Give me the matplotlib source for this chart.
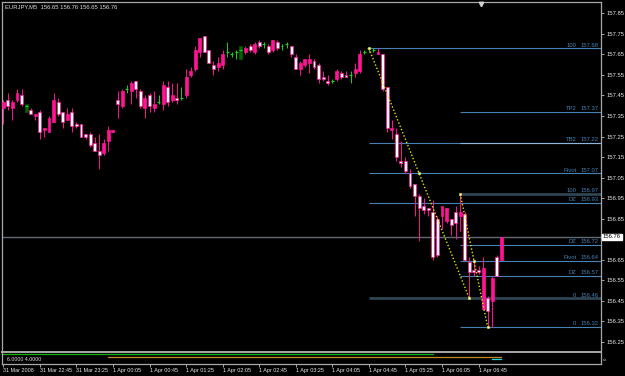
import numpy as np
import matplotlib
matplotlib.use("Agg")
import matplotlib.pyplot as plt
from matplotlib.patches import Rectangle

plt.rcParams['font.family'] = ['Liberation Sans', 'DejaVu Sans']
FS = 4.2

# EURJPY M5 bars, 31 Mar 22:05 .. 1 Apr 07:10
opens = [157.39, 157.43, 157.39, 157.43, 157.45, 157.40, 157.38, 157.35, 157.37, 157.28,
         157.27, 157.32, 157.42, 157.37, 157.33, 157.37, 157.31, 157.31, 157.26, 157.26,
         157.22, 157.18, 157.17, 157.23, 157.27, 157.43, 157.40, 157.48, 157.47, 157.52,
         157.47, 157.39, 157.45, 157.39, 157.42, 157.41, 157.49, 157.43, 157.44, 157.44,
         157.45, 157.55, 157.58, 157.66, 157.74, 157.67, 157.60, 157.59, 157.60, 157.66,
         157.65, 157.66, 157.67, 157.66, 157.69, 157.66, 157.71, 157.70, 157.69, 157.67,
         157.71, 157.69, 157.70, 157.69, 157.64, 157.58, 157.60, 157.61, 157.62, 157.60,
         157.54, 157.52, 157.52, 157.53, 157.56, 157.55, 157.55, 157.56, 157.57, 157.66,
         157.68, 157.67, 157.65, 157.65, 157.49, 157.28, 157.26, 157.13, 157.13, 157.07,
         157.02, 156.96, 156.91, 156.90, 156.88, 156.67, 156.86, 156.90, 156.85, 156.83,
         156.88, 156.87, 156.64, 156.60, 156.59, 156.61, 156.40, 156.45, 156.57, 156.65]
highs = [157.43, 157.46, 157.43, 157.48, 157.48, 157.41, 157.39, 157.36, 157.38, 157.29,
         157.35, 157.46, 157.44, 157.37, 157.39, 157.39, 157.32, 157.31, 157.26, 157.27,
         157.25, 157.26, 157.24, 157.30, 157.28, 157.47, 157.48, 157.50, 157.52, 157.52,
         157.48, 157.45, 157.46, 157.47, 157.45, 157.52, 157.52, 157.51, 157.51, 157.49,
         157.58, 157.59, 157.69, 157.73, 157.74, 157.67, 157.62, 157.64, 157.67, 157.71,
         157.66, 157.67, 157.69, 157.69, 157.70, 157.71, 157.72, 157.71, 157.70, 157.72,
         157.72, 157.70, 157.71, 157.69, 157.65, 157.62, 157.63, 157.65, 157.63, 157.61,
         157.57, 157.55, 157.53, 157.58, 157.57, 157.57, 157.57, 157.61, 157.67, 157.67,
         157.68, 157.68, 157.68, 157.65, 157.49, 157.33, 157.29, 157.23, 157.15, 157.09,
         157.02, 156.97, 156.95, 156.90, 156.94, 156.86, 156.91, 156.90, 156.85, 156.91,
         156.97, 156.88, 156.66, 156.65, 156.62, 156.66, 156.47, 156.57, 156.67, 156.76]
lows = [157.31, 157.38, 157.33, 157.42, 157.40, 157.37, 157.36, 157.33, 157.24, 157.25,
        157.27, 157.32, 157.35, 157.29, 157.33, 157.27, 157.29, 157.25, 157.24, 157.20,
        157.18, 157.09, 157.16, 157.18, 157.27, 157.34, 157.39, 157.46, 157.41, 157.44,
        157.39, 157.34, 157.37, 157.37, 157.41, 157.38, 157.40, 157.42, 157.41, 157.43,
        157.44, 157.54, 157.57, 157.64, 157.66, 157.61, 157.55, 157.57, 157.58, 157.64,
        157.64, 157.63, 157.63, 157.65, 157.66, 157.65, 157.68, 157.68, 157.65, 157.66,
        157.67, 157.67, 157.68, 157.64, 157.58, 157.55, 157.59, 157.56, 157.58, 157.51,
        157.52, 157.50, 157.51, 157.52, 157.53, 157.54, 157.51, 157.54, 157.56, 157.65,
        157.66, 157.66, 157.65, 157.47, 157.27, 157.24, 157.13, 157.10, 157.07, 157.00,
        156.86, 156.74, 156.87, 156.86, 156.65, 156.66, 156.80, 156.83, 156.77, 156.75,
        156.79, 156.65, 156.46, 156.57, 156.58, 156.41, 156.32, 156.32, 156.57, 156.65]
closes = [157.42, 157.40, 157.42, 157.46, 157.41, 157.40, 157.36, 157.36, 157.27, 157.29,
          157.34, 157.43, 157.36, 157.32, 157.36, 157.30, 157.30, 157.25, 157.25, 157.21,
          157.18, 157.16, 157.22, 157.28, 157.28, 157.41, 157.47, 157.48, 157.51, 157.48,
          157.40, 157.44, 157.40, 157.41, 157.42, 157.50, 157.42, 157.45, 157.43, 157.44,
          157.54, 157.57, 157.67, 157.73, 157.66, 157.61, 157.58, 157.61, 157.65, 157.66,
          157.65, 157.66, 157.67, 157.68, 157.67, 157.70, 157.69, 157.70, 157.66, 157.72,
          157.68, 157.69, 157.70, 157.65, 157.58, 157.61, 157.63, 157.63, 157.59, 157.53,
          157.53, 157.51, 157.52, 157.57, 157.54, 157.54, 157.55, 157.58, 157.65, 157.66,
          157.68, 157.67, 157.66, 157.48, 157.29, 157.29, 157.15, 157.12, 157.08, 157.01,
          156.96, 156.90, 156.89, 156.89, 156.66, 156.85, 156.91, 156.84, 156.82, 156.88,
          156.86, 156.65, 156.59, 156.59, 156.60, 156.41, 156.46, 156.56, 156.66, 156.76]
# u = up candle, d = down candle, x = doji cross, G = dark green bar
kinds = list("uduudGdudu" "uudduddddd" "dduuuduxud" "duduxudu" "dx"
             "uuuudddu" "ux" "xxGudud" "xdu" "dxxdduuudd" "ddxuddxuux"
             "xxuddudddd" "dddddduudd" "u" "ddddududuuu")

time_ticks = [0, 8, 16, 24, 32, 40, 48, 56, 64, 72, 80, 88, 96, 104]
time_labels = ['31 Mar 2008', '31 Mar 22:45', '31 Mar 23:25', '1 Apr 00:05', '1 Apr 00:45',
               '1 Apr 01:25', '1 Apr 02:05', '1 Apr 02:45', '1 Apr 03:25', '1 Apr 04:05',
               '1 Apr 04:45', '1 Apr 05:25', '1 Apr 06:05', '1 Apr 06:45']

# fibo objects (start, middle, end)
fib_a = [(80, 157.68), (91, 157.07), (102, 156.46)]
fib_b = [(100, 156.97), (103, 156.645), (106, 156.32)]
level_prices = [157.68, 157.37, 157.22, 157.07, 156.97, 156.925, 156.72, 156.645, 156.57, 156.46, 156.32]
level_start = [80, 100, 80, 80, 100, 80, 100, 100, 100, 80, 100]
level_names = ['100', 'TP2', 'TB2', 'Pivot', '100', 'DZ', 'DZ', 'Pivot', 'DZ', '0', '0']
level_text = ['157.68', '157.37', '157.22', '157.07', '156.97', '156.93', '156.72', '156.64', '156.57', '156.46', '156.32']
bid = 156.76
shift_bar = 104.5

# indicator window
ind_green = 6.0
ind_orange = 4.0
ind_cyan = 2.0

pink = '#FF1493'
green = '#1ECF1E'
steel = '#4682B4'
W, H = 625, 376
fig = plt.figure(figsize=(W / 100, H / 100), dpi=100, facecolor='black')
ax = fig.add_axes([2 / W, (H - 352) / H, 599 / W, 350 / H], facecolor='black')
ax.set_xlim(-0.28, 130.8)
ax.set_ylim(156.199, 157.906)

bw = 0.32
for i in range(len(opens)):
    o, h, l, c = opens[i], highs[i], lows[i], closes[i]
    k = kinds[i] if i < len(kinds) else 'd'
    if k == 'x':
        ax.vlines(i, l, h, color=green, lw=0.7, zorder=3)
        ax.hlines(o, i - bw, i + bw, color=green, lw=0.9, zorder=3)
    elif k == 'G':
        ax.add_patch(Rectangle((i - bw, l), 2 * bw, h - l, fc='#006400', ec='#006400', lw=0.4, zorder=2))
        ax.hlines(o, i - bw, i + bw, color=green, lw=0.9, zorder=3)
    else:
        ax.vlines(i, l, h, color=pink, lw=0.7, zorder=2)
        lo = min(o, c)
        ht = max(abs(c - o), 0.006)
        fc = pink if k == 'u' else 'white'
        ax.add_patch(Rectangle((i - bw, lo), 2 * bw, ht, fc=fc, ec=pink, lw=0.5, zorder=3))

# level lines and labels
xmax = 130.8
thick = {4, 9}
tr = ax.get_yaxis_transform()
for j, p in enumerate(level_prices):
    if j in thick:
        ax.hlines(p, level_start[j], xmax, color='#2E4552', lw=2.0, zorder=1)
    else:
        ax.hlines(p, level_start[j], xmax, color=steel, lw=0.8, zorder=1)
    ax.text(0.9967, p + 0.004, level_text[j], transform=tr, ha='right', va='bottom',
            fontsize=FS, color=steel)
    ax.text(0.959, p + 0.004, level_names[j], transform=tr, ha='right', va='bottom',
            fontsize=FS, color=steel)
ax.hlines(157.22, 100, xmax, color='#8DB6DC', lw=0.8, zorder=1)
ax.axhline(bid, color='#5F6A72', lw=1.0, zorder=1)

for pts in (fib_a, fib_b):
    xs = [q[0] for q in pts]
    ys = [q[1] for q in pts]
    ax.plot(xs, ys, color='#E6E600', ls=(0, (1, 1.5)), lw=1.0, zorder=4)
    ax.plot(xs, ys, ls='none', marker='s', ms=2.0, mfc='white', mec='#E6E600', mew=0.4, zorder=5)

# chart shift marker at the top edge
ax.plot([shift_bar], [0.993], transform=ax.get_xaxis_transform(), marker='v', ms=3.2,
        color='#D0D0D0', clip_on=False, zorder=6)

yt = np.round(np.arange(156.25, 157.86, 0.1), 2)
ax.yaxis.tick_right()
ax.set_yticks(yt)
ax.set_yticklabels(['' if abs(v - 156.75) < 1e-6 else f'{v:.2f}' for v in yt])
ax.tick_params(axis='y', colors='#C0C0C0', labelcolor='#E8E8E8', labelsize=FS, length=2, pad=2, width=0.6)
ax.set_xticks([])
for s in ax.spines.values():
    s.set_color('#A8A8A8')
    s.set_linewidth(0.9)
ax.spines['bottom'].set_linewidth(1.4)
ax.text(1.003, bid, '156.76', transform=tr, ha='left', va='center',
        fontsize=FS, color='black', bbox=dict(fc='white', ec='white', pad=0.6), clip_on=False)

fig.text(5 / W, 1 - 7 / H, 'EURJPY,M5  156.65 156.76 156.65 156.76', fontsize=FS,
         color='#DDDDDD', va='center', ha='left')

# indicator sub-window
ax2 = fig.add_axes([2 / W, (H - 364) / H, 599 / W, 11 / H], facecolor='black')
ax2.set_xlim(-0.28, 130.8)
ax2.set_ylim(-2.1, 7.1)
bars = np.arange(len(opens))
ax2.plot(np.r_[-1, bars[:95]], np.full(96, ind_green), color='#12B212', lw=0.9)
ax2.plot(bars[23:], np.full(len(bars) - 23, ind_orange), color='#C08A1C', lw=0.9)
ax2.plot(bars[107:], np.full(len(bars) - 107, ind_cyan), color='#20D8E0', lw=0.9)
ax2.text(0.008, 0.42, '6.0000 4.0000', transform=ax2.transAxes, fontsize=3.8, color='#E0E0E0',
         va='center', ha='left')
ax2.text(1.004, 0.5, '0', transform=ax2.transAxes, fontsize=3.2, color='#E0E0E0',
         va='center', ha='left', rotation=90)
ax2.set_yticks([])
ax2.set_xticks(time_ticks)
ax2.set_xticklabels(time_labels)
for lab in ax2.get_xticklabels():
    lab.set_horizontalalignment('left')
ax2.tick_params(axis='x', colors='#C0C0C0', labelcolor='#E8E8E8', labelsize=3.9, length=2, pad=1, width=0.6)
for s in ax2.spines.values():
    s.set_color('#A8A8A8')
    s.set_linewidth(0.9)
ax2.spines['top'].set_visible(False)

fig.savefig('out.png', dpi=100, facecolor='black')
